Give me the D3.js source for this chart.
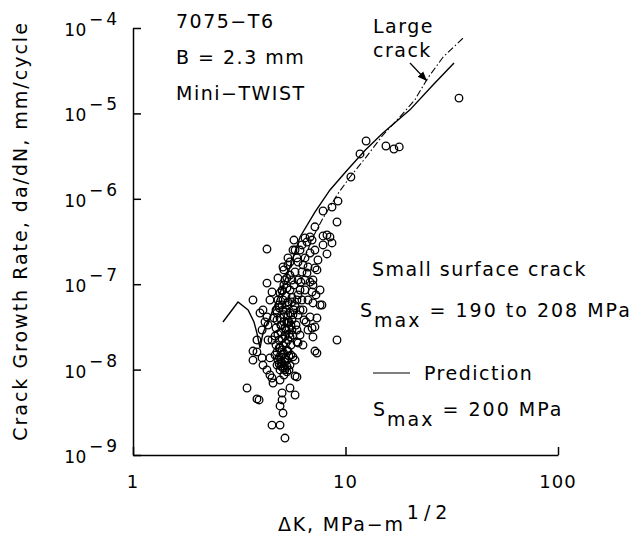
<!DOCTYPE html>
<html>
<head>
<meta charset="utf-8">
<script src="https://cdn.jsdelivr.net/npm/d3@7"></script>
<style>
  body { margin: 0; background: #fff; }
  svg { display: block; }
  text { font-family: "DejaVu Sans", sans-serif; fill: #000; }
</style>
</head>
<body>
<div id="chart"></div>
<script>
// Axis ticks
const kTicks = [1, 10, 100];
const rateTicks = [1e-9, 1e-8, 1e-7, 1e-6, 1e-5, 1e-4];

// Small surface crack data (Smax = 190 to 208 MPa)
const smallCrackK = [
  34.2, 12.5, 11.7, 10.6, 15.5, 16.9, 17.9, 9.22, 8.64, 7.84, 9.12, 7.18, 6.45, 6.81, 7.84, 8.45, 8.18,
  6.59, 6.96, 8.64, 7.84, 8.18, 6.81, 5.91, 4.27, 5.36, 5.08, 6.66, 7.34, 6.59, 5.79, 4.81, 5.30, 6.45,
  7.03, 4.27, 7.59, 6.11, 6.96, 4.92, 7.18, 7.03, 3.67, 4.41, 5.08, 5.60, 7.03, 7.59, 7.75, 4.09, 4.27,
  4.76, 5.98, 6.81, 7.34, 4.32, 5.30, 4.05, 5.91, 6.66, 7.18, 6.96, 3.83, 5.98, 5.48, 5.91, 7.03, 9.12,
  7.18, 7.34, 3.67, 3.83, 3.67, 4.05, 4.09, 4.27, 4.41, 4.56, 4.92, 4.51, 5.66, 5.91, 5.48, 5.79, 3.44,
  3.83, 3.92, 5.03, 5.03, 4.92, 5.08, 4.51, 4.92, 5.19, 5.79, 4.18, 3.96,
  4.81, 5.03, 5.25, 4.92, 5.13, 5.36, 4.71, 4.97, 5.19, 5.42, 4.87, 5.08, 5.30, 4.76, 4.97, 5.19, 5.42,
  4.87, 5.08, 5.30, 4.71, 5.54, 5.60, 5.25, 5.48, 5.72, 5.13, 5.98, 6.24, 6.11, 6.38, 5.72, 4.71, 4.92,
  5.13, 4.81, 5.36, 5.03, 4.66, 5.48, 5.66, 5.85, 6.17, 6.31, 6.11, 5.66, 6.45, 5.48, 5.91, 5.19,
  4.87, 5.13, 4.97, 5.25, 5.36, 4.81, 5.03, 5.25, 4.92, 5.13, 5.36, 4.87, 5.19, 5.03, 5.30, 4.97, 5.19,
  5.42, 5.48, 5.03, 5.36, 5.60, 5.79, 5.66, 5.54,
  4.87, 5.08, 5.30, 4.97, 5.19, 4.76, 5.42, 4.87, 5.08, 5.30, 4.97, 5.19, 5.42, 4.76, 5.54, 5.03, 5.30,
  5.60, 5.36, 5.13, 5.48, 5.79, 5.98, 6.24, 5.98, 6.45, 6.66, 6.31, 6.52, 6.11, 6.31, 5.60, 5.79, 6.81,
  7.26, 7.42, 6.24, 7.18, 5.72, 4.51, 4.51, 4.66, 4.41, 4.32, 4.61
];
const smallCrackRate = [
  1.51e-5, 4.75e-6, 3.35e-6, 1.8e-6, 4.15e-6, 3.83e-6, 4.05e-6, 9.4e-7, 8.0e-7, 7.2e-7, 5.35e-7, 4.7e-7, 3.48e-7, 3.57e-7, 3.67e-7, 3.57e-7, 3.77e-7,
  3.12e-7, 3.29e-7, 3.04e-7, 2.88e-7, 2.26e-7, 2.32e-7, 2.03e-7, 2.58e-7, 1.68e-7, 1.59e-7, 1.59e-7, 1.47e-7, 1.35e-7, 1.39e-7, 1.18e-7, 1.18e-7, 1.12e-7,
  1.12e-7, 1.03e-7, 8.55e-8, 8.55e-8, 8.1e-8, 7.89e-8, 1.55e-7, 9.8e-8, 6.53e-8, 6.53e-8, 6.53e-8, 6.19e-8, 6.03e-8, 5.71e-8, 5.71e-8, 4.99e-8, 4.13e-8,
  4.6e-8, 4.36e-8, 4.13e-8, 4.02e-8, 3.33e-8, 3.52e-8, 2.91e-8, 2.91e-8, 2.91e-8, 3.16e-8, 3.07e-8, 2.22e-8, 2.05e-8, 2.41e-8, 2.1e-8, 2.41e-8, 2.22e-8,
  1.65e-8, 1.56e-8, 1.65e-8, 1.61e-8, 1.29e-8, 1.37e-8, 1.13e-8, 9.9e-9, 8.65e-9, 6.97e-9, 7.55e-9, 7.97e-9, 1.41e-8, 8.2e-9, 6.09e-9, 5.04e-9, 6.09e-9,
  4.53e-9, 4.41e-9, 5.32e-9, 4.41e-9, 3.75e-9, 3.1e-9, 2.24e-9, 2.24e-9, 1.58e-9, 8.4e-9, 3.61e-8, 4.6e-8,
  6.53e-8, 5.71e-8, 4.99e-8, 4.02e-8, 3.61e-8, 4.36e-8, 3.07e-8, 2.75e-8, 2.47e-8, 3.07e-8, 2.22e-8, 1.94e-8, 1.7e-8, 1.61e-8, 1.41e-8, 1.23e-8, 1.44e-8,
  1.16e-8, 1.04e-8, 9.4e-9, 1.94e-8, 1.94e-8, 3.81e-8, 7.28e-8, 8.55e-8, 9.8e-8, 9.8e-8, 7.48e-8, 6.53e-8, 4.99e-8, 3.81e-8, 4.99e-8, 4.99e-8, 9.9e-9,
  8.65e-9, 1.29e-8, 2.22e-8, 1.7e-8, 2.47e-8, 1.13e-8, 2.54e-8, 3.33e-8, 1.06e-7, 1.68e-7, 2.51e-7, 2.51e-7, 2.03e-7, 1.28e-7, 6.53e-8, 1.12e-7,
  5.3e-8, 4.4e-8, 3.3e-8, 2.9e-8, 3.6e-8, 2.6e-8, 2.3e-8, 2.05e-8, 1.8e-8, 1.55e-8, 1.65e-8, 1.4e-8, 1.35e-8, 1.2e-8, 1.1e-8, 1.1e-8, 9.9e-9,
  2.6e-8, 4.6e-8, 8.3e-8, 6.2e-8, 7.0e-8, 5.6e-8, 4.4e-8, 3.3e-8,
  5.71e-8, 4.99e-8, 5.71e-8, 3.33e-8, 3.07e-8, 3.81e-8, 3.61e-8, 1.79e-8, 1.52e-8, 1.29e-8, 1.23e-8, 1.04e-8, 9.9e-9, 1.13e-8, 1.48e-8, 8.55e-8, 9.03e-8,
  1.12e-7, 2.03e-7, 1.47e-7, 1.82e-7, 2.51e-7, 1.82e-7, 1.39e-7, 1.12e-7, 8.55e-8, 6.53e-8, 4.99e-8, 3.61e-8, 2.54e-8, 1.94e-8, 2.91e-8, 1.29e-8, 1.06e-7,
  7.48e-8, 1.92e-7, 2.88e-7, 2.51e-7, 3.29e-7, 8.1e-8, 2.22e-8, 1.48e-8, 1.37e-8, 2.22e-8, 4.02e-8
];

// Prediction, Smax = 200 MPa (solid line)
const predictionK = [2.65, 3.12, 3.48, 3.71, 3.83, 3.96, 4.09, 4.41, 4.81, 5.36, 6.11, 7.18, 8.45, 10.2, 12.4, 15.0, 20.1, 25.8, 32.4];
const predictionRate = [3.61e-8, 6.19e-8, 4.99e-8, 3.61e-8, 2.68e-8, 1.79e-8, 2.68e-8, 4.13e-8, 6.89e-8, 1.35e-7, 3.57e-7, 7.0e-7, 1.27e-6, 2.17e-6, 3.73e-6, 5.89e-6, 1.1e-5, 2.15e-5, 3.89e-5];

// Large crack (dash-dot line)
const largeCrackK = [6.31, 7.03, 7.75, 9.12, 10.5, 12.4, 15.0, 18.0, 21.2, 24.4, 28.8, 35.7];
const largeCrackRate = [1.82e-7, 3.57e-7, 5.65e-7, 1.11e-6, 1.8e-6, 3.0e-6, 5.58e-6, 9.07e-6, 1.44e-5, 2.6e-5, 4.57e-5, 7.6e-5];

// Set up dimensions
const width = 643;
const height = 537;
const plotLeft = 133, plotRight = 558, plotTop = 28, plotBottom = 455;

const svg = d3.select('#chart')
  .append('svg')
  .attr('width', width)
  .attr('height', height);

const x = d3.scaleLog().domain([1, 100]).range([plotLeft, plotRight]);
const y = d3.scaleLog().domain([1e-9, 1e-4]).range([plotBottom, plotTop]);

// Axes (left and bottom only, ticks pointing inward)
const yAxis = svg.append('g')
  .attr('transform', `translate(${plotLeft},0)`)
  .call(d3.axisLeft(y).tickValues(rateTicks).tickSizeInner(-8).tickSizeOuter(0).tickFormat(''));

const xAxis = svg.append('g')
  .attr('transform', `translate(0,${plotBottom})`)
  .call(d3.axisBottom(x).tickValues(kTicks).tickSizeInner(-8).tickSizeOuter(0).tickFormat(''));

[yAxis, xAxis].forEach(a => {
  a.selectAll('path, line').attr('stroke', '#000').attr('stroke-width', 1.5);
});

// Y tick labels: 10 with superscript exponent
rateTicks.forEach(v => {
  const t = svg.append('text')
    .attr('x', 120)
    .attr('y', y(v) + 8)
    .attr('text-anchor', 'end')
    .style('font-size', '17px')
    .style('letter-spacing', '0.5px');
  t.append('tspan').text('10');
  t.append('tspan').attr('dy', -11).attr('dx', 2)
    .style('letter-spacing', '3px')
    .text('\u2212' + Math.round(-Math.log10(v)));
});

// X tick labels
svg.selectAll('.xlabel')
  .data(kTicks)
  .enter()
  .append('text')
  .attr('x', d => x(d))
  .attr('y', 488)
  .attr('text-anchor', 'middle')
  .style('font-size', '18px')
  .style('letter-spacing', '1px')
  .text(d => d);

// Axis titles
svg.append('text')
  .attr('transform', 'translate(27,231) rotate(-90)')
  .attr('text-anchor', 'middle')
  .style('font-size', '19px')
  .style('letter-spacing', '2px')
  .text('Crack Growth Rate, da/dN, mm/cycle');

const xTitle = svg.append('text')
  .attr('x', 278)
  .attr('y', 531)
  .style('font-size', '19px')
  .style('letter-spacing', '1.8px');
xTitle.append('tspan').text('\u0394K, MPa\u2212m');
xTitle.append('tspan').attr('dy', -12).attr('dx', 2).style('letter-spacing', '5px').text('1/2');

// Lines
const line = d3.line()
  .x(d => x(d[0]))
  .y(d => y(d[1]));

svg.append('path')
  .datum(largeCrackK.map((k, i) => [k, largeCrackRate[i]]))
  .attr('d', line)
  .attr('fill', 'none')
  .attr('stroke', '#000')
  .attr('stroke-width', 1.1)
  .attr('stroke-dasharray', '7,2.5,1.5,2.5');

svg.append('path')
  .datum(predictionK.map((k, i) => [k, predictionRate[i]]))
  .attr('d', line)
  .attr('fill', 'none')
  .attr('stroke', '#000')
  .attr('stroke-width', 1.4);

// Scatter points
svg.append('g')
  .selectAll('circle')
  .data(smallCrackK.map((k, i) => [k, smallCrackRate[i]]))
  .enter()
  .append('circle')
  .attr('cx', d => x(d[0]))
  .attr('cy', d => y(d[1]))
  .attr('r', 3.8)
  .attr('fill', 'none')
  .attr('stroke', '#000')
  .attr('stroke-width', 1.3);

// Annotations
const notes = [
  { t: '7075\u2212T6', x: 176, y: 28 },
  { t: 'B = 2.3 mm', x: 176, y: 64 },
  { t: 'Mini\u2212TWIST', x: 176, y: 100 },
  { t: 'Large', x: 373, y: 33 },
  { t: 'crack', x: 373, y: 57 },
  { t: 'Small surface crack', x: 372, y: 276 },
  { t: 'Prediction', x: 424, y: 380 }
];
svg.selectAll('.note')
  .data(notes)
  .enter()
  .append('text')
  .attr('x', d => d.x)
  .attr('y', d => d.y)
  .style('font-size', '19px')
  .style('letter-spacing', '1.5px')
  .text(d => d.t);

// Smax labels with subscript
function smaxLabel(xPos, yPos, rest) {
  const t = svg.append('text')
    .attr('x', xPos)
    .attr('y', yPos)
    .style('font-size', '19px')
    .style('letter-spacing', '2px');
  t.append('tspan').text('S');
  t.append('tspan').attr('dy', 10).text('max');
  t.append('tspan').attr('dy', -10).text(' = ' + rest);
}
smaxLabel(360, 317, '190 to 208 MPa');
smaxLabel(373, 416, '200 MPa');

// Legend line for prediction
svg.append('line')
  .attr('x1', 373).attr('x2', 410)
  .attr('y1', 373).attr('y2', 373)
  .attr('stroke', '#000')
  .attr('stroke-width', 1.2);

// Arrow pointing at the large crack curve
const defs = svg.append('defs');
defs.append('marker')
  .attr('id', 'arrow')
  .attr('viewBox', '0 0 10 10')
  .attr('refX', 10).attr('refY', 5)
  .attr('markerWidth', 8).attr('markerHeight', 8)
  .attr('orient', 'auto')
  .append('path')
  .attr('d', 'M0,1 L10,5 L0,9 z')
  .attr('fill', '#000');

svg.append('line')
  .attr('x1', 410).attr('y1', 63)
  .attr('x2', 427).attr('y2', 81)
  .attr('stroke', '#000')
  .attr('stroke-width', 1.2)
  .attr('marker-end', 'url(#arrow)');
</script>
</body>
</html>
